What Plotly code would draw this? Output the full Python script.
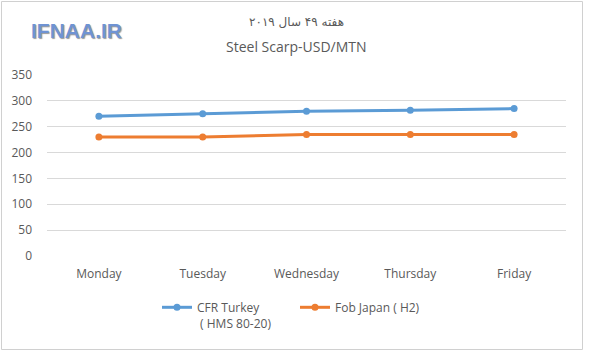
import plotly.graph_objects as go

days = ["Monday", "Tuesday", "Wednesday", "Thursday", "Friday"]
cfr_turkey = [270, 275, 280, 282, 285]
fob_japan = [230, 230, 235, 235, 235]
y_ticks = [0, 50, 100, 150, 200, 250, 300, 350]

W, H = 600, 361
L, R, T, B = 47, 566, 75, 256  # plot area in pixels


def px(xp):
    return (xp - L) / (R - L)


def py(yp):
    return (B - yp) / (B - T)


fig = go.Figure()
fig.add_trace(go.Scatter(
    x=days, y=cfr_turkey, mode="lines+markers",
    name="CFR Turkey<br> ( HMS 80-20)",
    line=dict(color="#5b9bd5", width=3),
    marker=dict(color="#5b9bd5", size=7),
))
fig.add_trace(go.Scatter(
    x=days, y=fob_japan, mode="lines+markers",
    name="Fob Japan ( H2)",
    line=dict(color="#ed7d31", width=3),
    marker=dict(color="#ed7d31", size=7),
))

fig.update_layout(
    width=W, height=H,
    margin=dict(l=L, r=W - R, t=T, b=H - B),
    paper_bgcolor="white", plot_bgcolor="white",
    font=dict(family="Open Sans", size=12, color="#595959"),
    showlegend=True,
    legend=dict(
        orientation="h", x=px(157), y=py(293), xanchor="left", yanchor="top",
        font=dict(size=12, color="#595959"), valign="top",
        entrywidth=93, bgcolor="rgba(0,0,0,0)",
    ),
    xaxis=dict(
        type="category", range=[-0.5, 4.5], showgrid=False, zeroline=False,
        showline=False, ticks="", tickfont=dict(size=12, color="#595959"),
        ticklabelstandoff=9, fixedrange=True,
    ),
    yaxis=dict(
        range=[0, 350], tickvals=y_ticks, showgrid=True, gridcolor="#d9d9d9",
        gridwidth=1, zeroline=False, showline=False, ticks="",
        tickfont=dict(size=12, color="#595959"), ticklabelstandoff=14,
        fixedrange=True,
    ),
    shapes=[
        dict(type="rect", xref="paper", yref="paper",
             x0=px(1.5), x1=px(582.5), y0=py(349.5), y1=py(1.5),
             line=dict(color="#d0d0d0", width=1), fillcolor="rgba(0,0,0,0)",
             layer="below"),
    ],
    annotations=[
        dict(text="هفته ۴۹ سال ۲۰۱۹", xref="paper", yref="paper",
             x=px(296), y=py(22), showarrow=False, xanchor="center", yanchor="middle",
             font=dict(family="DejaVu Sans", size=12, color="#595959")),
        dict(text="Steel Scarp-USD/MTN", xref="paper", yref="paper",
             x=px(296), y=py(47), showarrow=False, xanchor="center", yanchor="middle",
             font=dict(family="Open Sans", size=14, color="#595959")),
        dict(text="<b>IFNAA.IR</b>", xref="paper", yref="paper",
             x=px(76), y=py(31), showarrow=False, xanchor="center", yanchor="middle",
             font=dict(family="Liberation Sans", size=21, color="#6f93d3",
                       shadow="1px 1px 1px #9a9a9a")),
    ],
)

fig.write_html("out.html", config={"displayModeBar": False},
               post_script="document.body.style.margin='0';")
